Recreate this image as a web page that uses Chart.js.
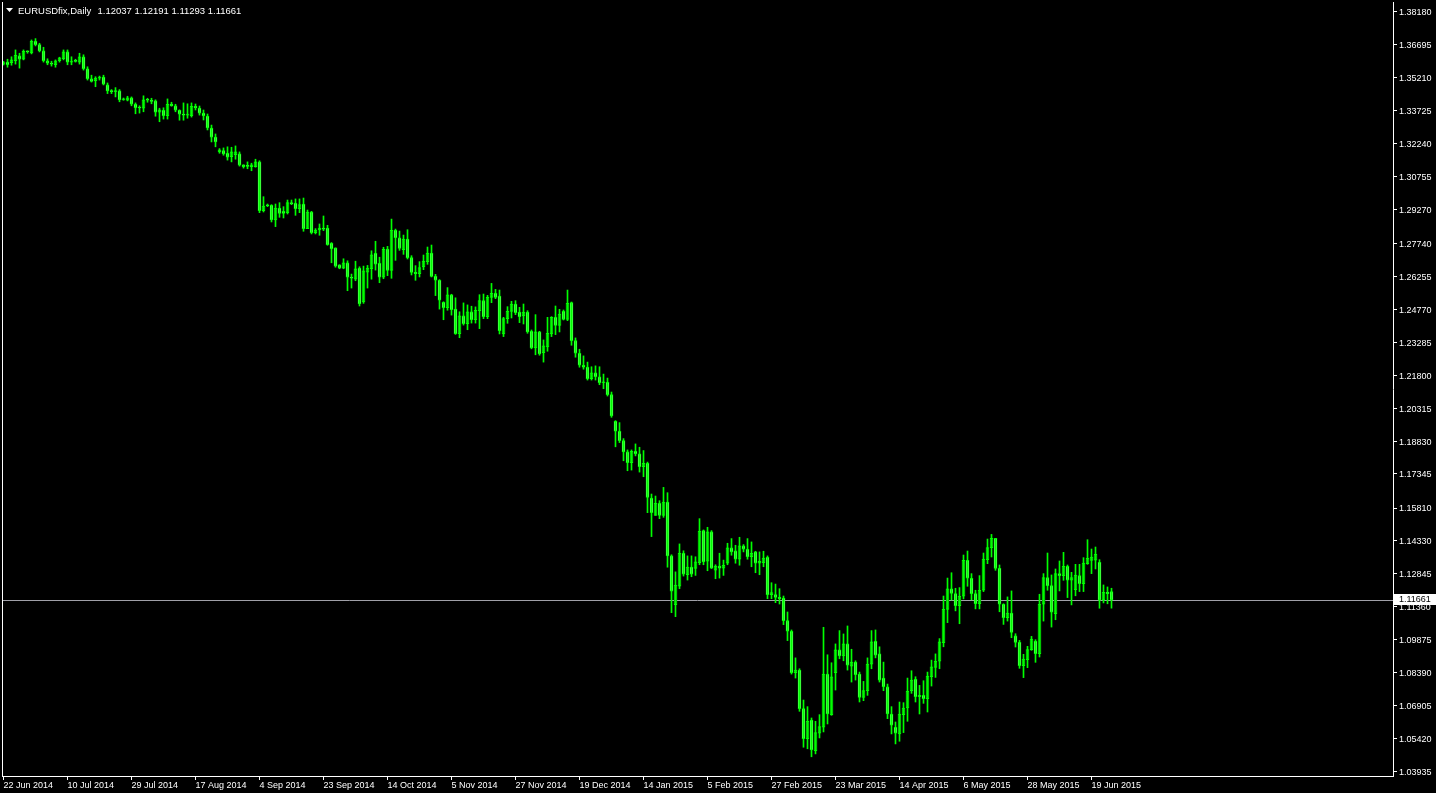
<!DOCTYPE html>
<html>
<head>
<meta charset="utf-8">
<title>EURUSDfix,Daily</title>
<script src="https://cdn.jsdelivr.net/npm/chart.js@4.4.1/dist/chart.umd.min.js"></script>
<style>
    html, body { margin: 0; padding: 0; background: #000; }
    #wrap { position: relative; width: 1436px; height: 793px; }
</style>
</head>
<body>
<div id="wrap"><canvas id="priceChart"></canvas></div>
<script>
// EURUSD daily candles, Jun 2014 - Jun 2015
const symbolTitle = 'EURUSDfix,Daily';

const opens = [
    1.3583,1.3592,1.3589,1.3598,1.3620,1.3605,1.3641,1.3634,1.3686,1.3671,1.3643,1.3598,1.3587,1.3580,1.3598,1.3607,
    1.3638,1.3592,1.3597,1.3592,1.3616,1.3562,1.3517,1.3508,1.3520,1.3525,1.3489,1.3462,1.3459,1.3462,1.3422,1.3420,
    1.3431,1.3402,1.3386,1.3384,1.3422,1.3420,1.3417,1.3366,1.3375,1.3350,1.3403,1.3395,1.3375,1.3357,1.3353,1.3350,
    1.3393,1.3385,1.3362,1.3349,1.3295,1.3254,1.3187,1.3193,1.3181,1.3165,1.3174,1.3178,1.3129,1.3123,1.3120,1.3120,
    1.3142,1.2922,1.2946,1.2946,1.2880,1.2934,1.2919,1.2913,1.2958,1.2955,1.2931,1.2952,1.2841,1.2916,1.2823,1.2835,
    1.2844,1.2844,1.2775,1.2754,1.2678,1.2663,1.2687,1.2622,1.2613,1.2663,1.2510,1.2645,1.2660,1.2730,1.2685,1.2622,
    1.2749,1.2653,1.2833,1.2800,1.2746,1.2794,1.2710,1.2644,1.2638,1.2668,1.2692,1.2731,1.2626,1.2608,1.2509,1.2484,
    1.2542,1.2478,1.2367,1.2448,1.2412,1.2466,1.2430,1.2471,1.2516,1.2444,1.2531,1.2549,1.2537,1.2366,1.2435,1.2468,
    1.2501,1.2465,1.2447,1.2465,1.2378,1.2303,1.2375,1.2281,1.2308,1.2366,1.2441,1.2405,1.2468,1.2432,1.2507,1.2336,
    1.2279,1.2225,1.2216,1.2164,1.2191,1.2173,1.2146,1.2148,1.2092,1.1972,1.1927,1.1885,1.1834,1.1785,1.1837,1.1825,
    1.1767,1.1783,1.1626,1.1548,1.1602,1.1548,1.1608,1.1365,1.1145,1.1229,1.1377,1.1280,1.1314,1.1308,1.1334,1.1479,
    1.1341,1.1473,1.1301,1.1319,1.1310,1.1332,1.1401,1.1388,1.1350,1.1410,1.1395,1.1361,1.1383,1.1332,1.1334,1.1359,
    1.1190,1.1190,1.1178,1.1175,1.1073,1.1025,1.0838,1.0850,1.0676,1.0541,1.0625,1.0487,1.0565,1.0592,1.0832,1.0649,
    1.0838,1.0941,1.0914,1.0968,1.0868,1.0886,1.0832,1.0727,1.0757,1.0877,1.0980,1.0923,1.0814,1.0775,1.0652,1.0592,
    1.0562,1.0649,1.0679,1.0757,1.0808,1.0730,1.0736,1.0721,1.0820,1.0862,1.0890,1.0974,1.1124,1.1217,1.1195,1.1140,
    1.1183,1.1345,1.1264,1.1195,1.1149,1.1210,1.1348,1.1402,1.1444,1.1309,1.1147,1.1086,1.1107,1.1005,1.0975,1.0870,
    1.0897,1.0942,1.0981,1.0924,1.1147,1.1267,1.1231,1.1104,1.1285,1.1276,1.1318,1.1255,1.1213,1.1276,1.1240,1.1330,
    1.1345,1.1346,1.1336,1.1165,1.1201,1.12037
];
const highs = [
    1.3595,1.3605,1.3616,1.3647,1.3632,1.3647,1.3643,1.3692,1.3698,1.3677,1.3659,1.3607,1.3596,1.3602,1.3614,1.3647,
    1.3647,1.3616,1.3605,1.3632,1.3625,1.3571,1.3533,1.3526,1.3529,1.3533,1.3498,1.3468,1.3477,1.3468,1.3430,1.3438,
    1.3435,1.3408,1.3395,1.3440,1.3429,1.3429,1.3422,1.3384,1.3386,1.3426,1.3411,1.3402,1.3377,1.3408,1.3404,1.3408,
    1.3403,1.3394,1.3376,1.3358,1.3308,1.3268,1.3202,1.3205,1.3210,1.3208,1.3214,1.3187,1.3129,1.3142,1.3136,1.3154,
    1.3147,1.2985,1.2952,1.2949,1.2952,1.2958,1.2940,1.2970,1.2970,1.2975,1.2975,1.2979,1.2925,1.2919,1.2841,1.2862,
    1.2898,1.2856,1.2778,1.2754,1.2678,1.2705,1.2696,1.2636,1.2694,1.2669,1.2672,1.2675,1.2741,1.2784,1.2712,1.2757,
    1.2761,1.2884,1.2839,1.2830,1.2812,1.2836,1.2719,1.2674,1.2692,1.2722,1.2758,1.2767,1.2635,1.2611,1.2511,1.2575,
    1.2545,1.2529,1.2466,1.2506,1.2497,1.2491,1.2488,1.2543,1.2546,1.2540,1.2594,1.2567,1.2564,1.2441,1.2489,1.2513,
    1.2516,1.2486,1.2501,1.2471,1.2384,1.2453,1.2378,1.2339,1.2441,1.2444,1.2492,1.2477,1.2474,1.2564,1.2510,1.2348,
    1.2297,1.2267,1.2239,1.2218,1.2222,1.2218,1.2185,1.2167,1.2104,1.1975,1.1966,1.1894,1.1843,1.1843,1.1870,1.1855,
    1.1840,1.1788,1.1644,1.1635,1.1614,1.1674,1.1650,1.1370,1.1293,1.1419,1.1388,1.1365,1.1365,1.1361,1.1533,1.1482,
    1.1494,1.1479,1.1325,1.1377,1.1346,1.1422,1.1443,1.1413,1.1449,1.1416,1.1443,1.1428,1.1386,1.1383,1.1386,1.1365,
    1.1244,1.1238,1.1217,1.1184,1.1112,1.1031,1.0905,1.0856,1.0715,1.0685,1.0634,1.0619,1.0649,1.1043,1.0919,1.0883,
    1.0968,1.1028,1.1013,1.1049,1.0944,1.0892,1.0841,1.0799,1.0905,1.1028,1.1031,1.0955,1.0886,1.0787,1.0685,1.0616,
    1.0706,1.0703,1.0814,1.0847,1.0820,1.0781,1.0802,1.0841,1.0895,1.0923,1.0992,1.1184,1.1265,1.1289,1.1219,1.1222,
    1.1369,1.1387,1.1285,1.1210,1.1276,1.1378,1.1441,1.1462,1.1444,1.1324,1.1149,1.1180,1.1207,1.1014,1.0984,1.0921,
    1.0957,1.1002,1.0987,1.1192,1.1285,1.1378,1.1279,1.1306,1.1342,1.1381,1.1324,1.1291,1.1327,1.1327,1.1357,1.1438,
    1.1396,1.1405,1.1348,1.1234,1.1225,1.12191
];
const lows = [
    1.3579,1.3569,1.3578,1.3583,1.3565,1.3602,1.3632,1.3629,1.3665,1.3638,1.3592,1.3580,1.3574,1.3569,1.3592,1.3602,
    1.3580,1.3580,1.3592,1.3583,1.3556,1.3511,1.3502,1.3481,1.3511,1.3489,1.3450,1.3450,1.3435,1.3413,1.3420,1.3417,
    1.3395,1.3359,1.3362,1.3368,1.3411,1.3404,1.3348,1.3323,1.3335,1.3335,1.3393,1.3368,1.3330,1.3330,1.3339,1.3344,
    1.3376,1.3353,1.3331,1.3286,1.3232,1.3210,1.3181,1.3172,1.3150,1.3142,1.3154,1.3123,1.3114,1.3111,1.3102,1.3118,
    1.2913,1.2916,1.2940,1.2871,1.2850,1.2892,1.2889,1.2907,1.2949,1.2901,1.2913,1.2829,1.2841,1.2817,1.2817,1.2811,
    1.2832,1.2766,1.2687,1.2667,1.2660,1.2660,1.2561,1.2573,1.2606,1.2492,1.2504,1.2573,1.2613,1.2654,1.2597,1.2615,
    1.2629,1.2617,1.2698,1.2743,1.2725,1.2704,1.2632,1.2608,1.2623,1.2656,1.2680,1.2623,1.2539,1.2478,1.2430,1.2473,
    1.2451,1.2364,1.2349,1.2406,1.2385,1.2415,1.2415,1.2390,1.2435,1.2435,1.2507,1.2525,1.2366,1.2354,1.2414,1.2438,
    1.2453,1.2417,1.2411,1.2369,1.2299,1.2272,1.2270,1.2239,1.2288,1.2354,1.2363,1.2375,1.2429,1.2426,1.2315,1.2261,
    1.2216,1.2207,1.2158,1.2158,1.2158,1.2137,1.2119,1.2086,1.1990,1.1857,1.1876,1.1794,1.1749,1.1752,1.1816,1.1743,
    1.1722,1.1560,1.1452,1.1548,1.1533,1.1539,1.1314,1.1109,1.1091,1.1217,1.1274,1.1256,1.1271,1.1277,1.1325,1.1325,
    1.1298,1.1308,1.1262,1.1265,1.1277,1.1325,1.1368,1.1332,1.1323,1.1383,1.1350,1.1316,1.1289,1.1280,1.1316,1.1172,
    1.1172,1.1154,1.1148,1.1055,1.0983,1.0832,1.0814,1.0664,1.0502,1.0495,1.0459,1.0472,1.0544,1.0571,1.0607,1.0646,
    1.0760,1.0901,1.0892,1.0850,1.0796,1.0805,1.0706,1.0712,1.0736,1.0856,1.0905,1.0796,1.0757,1.0631,1.0562,1.0517,
    1.0529,1.0568,1.0619,1.0745,1.0706,1.0652,1.0700,1.0661,1.0778,1.0817,1.0856,1.0955,1.1064,1.1166,1.1117,1.1059,
    1.1171,1.1228,1.1167,1.1126,1.1126,1.1204,1.1330,1.1360,1.1300,1.1113,1.1056,1.1071,1.0996,1.0954,1.0858,1.0816,
    1.0861,1.0939,1.0885,1.0909,1.1071,1.1210,1.1044,1.1077,1.1207,1.1255,1.1177,1.1144,1.1185,1.1204,1.1204,1.1327,
    1.1285,1.1306,1.1129,1.1153,1.1149,1.11293
];
const closes = [
    1.3590,1.3580,1.3602,1.3623,1.3605,1.3641,1.3638,1.3686,1.3671,1.3643,1.3598,1.3587,1.3583,1.3598,1.3611,1.3638,
    1.3592,1.3597,1.3595,1.3616,1.3562,1.3517,1.3505,1.3520,1.3525,1.3493,1.3462,1.3459,1.3462,1.3422,1.3426,1.3431,
    1.3402,1.3386,1.3385,1.3422,1.3420,1.3415,1.3366,1.3377,1.3350,1.3402,1.3395,1.3375,1.3357,1.3353,1.3356,1.3393,
    1.3385,1.3362,1.3349,1.3295,1.3254,1.3232,1.3196,1.3178,1.3163,1.3187,1.3187,1.3127,1.3120,1.3122,1.3129,1.3142,
    1.2922,1.2943,1.2944,1.2880,1.2934,1.2910,1.2910,1.2958,1.2952,1.2931,1.2949,1.2841,1.2916,1.2823,1.2835,1.2844,
    1.2839,1.2769,1.2751,1.2672,1.2663,1.2687,1.2622,1.2618,1.2660,1.2501,1.2651,1.2663,1.2723,1.2681,1.2622,1.2748,
    1.2653,1.2833,1.2800,1.2752,1.2794,1.2710,1.2644,1.2638,1.2665,1.2695,1.2731,1.2626,1.2608,1.2518,1.2484,1.2542,
    1.2475,1.2367,1.2448,1.2412,1.2466,1.2430,1.2473,1.2516,1.2444,1.2531,1.2549,1.2531,1.2381,1.2435,1.2468,1.2501,
    1.2462,1.2444,1.2465,1.2375,1.2303,1.2375,1.2276,1.2312,1.2369,1.2441,1.2405,1.2456,1.2432,1.2504,1.2336,1.2279,
    1.2225,1.2216,1.2164,1.2191,1.2173,1.2146,1.2148,1.2092,1.1996,1.1927,1.1885,1.1834,1.1785,1.1837,1.1825,1.1767,
    1.1783,1.1629,1.1560,1.1602,1.1548,1.1608,1.1365,1.1206,1.1233,1.1377,1.1283,1.1314,1.1283,1.1338,1.1476,1.1338,
    1.1473,1.1310,1.1319,1.1310,1.1323,1.1401,1.1383,1.1350,1.1410,1.1395,1.1361,1.1377,1.1332,1.1341,1.1355,1.1190,
    1.1199,1.1178,1.1172,1.1073,1.1025,1.0838,1.0850,1.0676,1.0541,1.0619,1.0490,1.0568,1.0595,1.0832,1.0652,1.0820,
    1.0941,1.0914,1.0968,1.0872,1.0886,1.0829,1.0727,1.0757,1.0877,1.0977,1.0917,1.0805,1.0775,1.0652,1.0601,1.0565,
    1.0652,1.0679,1.0754,1.0805,1.0730,1.0736,1.0721,1.0823,1.0865,1.0890,1.0977,1.1124,1.1217,1.1196,1.1140,1.1183,
    1.1345,1.1264,1.1195,1.1149,1.1210,1.1351,1.1402,1.1444,1.1309,1.1147,1.1086,1.1107,1.1020,1.0975,1.0870,1.0900,
    1.0942,1.0990,1.0924,1.1147,1.1267,1.1231,1.1111,1.1285,1.1276,1.1318,1.1255,1.1267,1.1279,1.1240,1.1333,1.1354,
    1.1360,1.1372,1.1165,1.1201,1.1195,1.11661
];

// one date label every 16 bars
const tickDates = [
    '22 Jun 2014', '10 Jul 2014', '29 Jul 2014', '17 Aug 2014', '4 Sep 2014', '23 Sep 2014',
    '14 Oct 2014', '5 Nov 2014', '27 Nov 2014', '19 Dec 2014', '14 Jan 2015', '5 Feb 2015',
    '27 Feb 2015', '23 Mar 2015', '14 Apr 2015', '6 May 2015', '28 May 2015', '19 Jun 2015'
];
const tickStep = 16;

const priceTicks = [
    1.38180, 1.36695, 1.35210, 1.33725, 1.32240, 1.30755, 1.29270, 1.27740, 1.26255, 1.24770, 1.23285, 1.21800,
    1.20315, 1.18830, 1.17345, 1.15810, 1.14330, 1.12845, 1.11360, 1.09875, 1.08390, 1.06905, 1.05420, 1.03935
];

const lastBar = { open: 1.12037, high: 1.12191, low: 1.11293, close: 1.11661 };

const LIME = '#00ff00';
const FONT = '9px "Liberation Sans", Arial, sans-serif';

const wickData = highs.map((h, i) => ({ x: i, y: [lows[i], h] }));
const bodyData = opens.map((o, i) => ({ x: i, y: [o, closes[i]] }));
const bodyFill = opens.map((o, i) => closes[i] >= o ? '#000000' : '#ffffff');

// MT4 style overlay: bid line, bid label, header text, left frame line
const mt4Overlay = {
    id: 'mt4Overlay',
    beforeDatasetsDraw(chart) {
        const { ctx, chartArea } = chart;
        const y = Math.round(chart.scales.y.getPixelForValue(lastBar.close)) + 0.5;
        ctx.save();
        ctx.strokeStyle = '#a0a0a8';
        ctx.lineWidth = 1;
        ctx.beginPath();
        ctx.moveTo(chartArea.left, y);
        ctx.lineTo(chartArea.right, y);
        ctx.stroke();
        ctx.restore();
    },
    afterDraw(chart) {
        const { ctx, chartArea } = chart;
        ctx.save();
        // frame left edge
        ctx.strokeStyle = '#ffffff';
        ctx.lineWidth = 1;
        ctx.beginPath();
        ctx.moveTo(chartArea.left + 0.5, chartArea.top);
        ctx.lineTo(chartArea.left + 0.5, chartArea.bottom);
        ctx.stroke();

        // bid price label on the axis
        const y = Math.round(chart.scales.y.getPixelForValue(lastBar.close));
        ctx.fillStyle = '#ffffff';
        ctx.fillRect(chartArea.right + 1, y - 6, 42, 11);
        ctx.fillStyle = '#000000';
        ctx.font = FONT;
        ctx.textBaseline = 'middle';
        ctx.textAlign = 'left';
        ctx.fillText(lastBar.close.toFixed(5), chartArea.right + 6, y);

        // header: symbol, timeframe and OHLC of the last bar
        ctx.fillStyle = '#ffffff';
        ctx.beginPath();
        ctx.moveTo(6, 8);
        ctx.lineTo(13, 8);
        ctx.lineTo(9.5, 12);
        ctx.closePath();
        ctx.fill();
        ctx.font = '9.5px "Liberation Sans", Arial, sans-serif';
        ctx.textBaseline = 'alphabetic';
        ctx.fillText(symbolTitle, 18, 14);
        const ohlc = [lastBar.open, lastBar.high, lastBar.low, lastBar.close].map(v => v.toFixed(5)).join(' ');
        ctx.fillText(ohlc, 97.5, 14);
        ctx.restore();
    }
};

document.addEventListener('DOMContentLoaded', function() {
    const ctx = document.getElementById('priceChart').getContext('2d');

    new Chart(ctx, {
        type: 'bar',
        data: {
            datasets: [
                {
                    label: 'wick',
                    data: wickData,
                    backgroundColor: LIME,
                    borderWidth: 0,
                    barThickness: 1,
                    grouped: false,
                    minBarLength: 1
                },
                {
                    label: 'body',
                    data: bodyData,
                    backgroundColor: bodyFill,
                    borderColor: LIME,
                    borderWidth: 1,
                    borderSkipped: false,
                    barThickness: 3,
                    grouped: false,
                    minBarLength: 1
                }
            ]
        },
        options: {
            responsive: true,
            maintainAspectRatio: false,
            animation: false,
            events: [],
            layout: {
                padding: { top: 2, left: 2, right: 0, bottom: 0 }
            },
            plugins: {
                legend: { display: false },
                tooltip: { enabled: false }
            },
            scales: {
                x: {
                    type: 'linear',
                    min: -0.375,
                    max: 347.375,
                    offset: false,
                    afterBuildTicks: function(scale) {
                        scale.ticks = tickDates.map((d, k) => ({ value: k * tickStep }));
                    },
                    afterFit: function(scale) {
                        scale.height = 17;
                        scale.paddingLeft = 0;
                        scale.paddingRight = 0;
                    },
                    ticks: {
                        autoSkip: false,
                        maxRotation: 0,
                        minRotation: 0,
                        align: 'start',
                        padding: 0,
                        color: '#ffffff',
                        font: { family: '"Liberation Sans", Arial, sans-serif', size: 9 },
                        callback: function(value, index) {
                            return tickDates[index];
                        }
                    },
                    grid: {
                        offset: false,
                        drawOnChartArea: false,
                        drawTicks: true,
                        tickLength: 4,
                        color: '#ffffff'
                    },
                    border: { display: true, color: '#ffffff', width: 1 }
                },
                y: {
                    type: 'linear',
                    position: 'right',
                    min: 1.03723,
                    max: 1.38631,
                    afterBuildTicks: function(scale) {
                        scale.ticks = priceTicks.map(v => ({ value: v }));
                    },
                    afterFit: function(scale) {
                        scale.width = 43;
                        scale.paddingTop = 0;
                        scale.paddingBottom = 0;
                    },
                    ticks: {
                        autoSkip: false,
                        padding: 2,
                        labelOffset: 1,
                        color: '#ffffff',
                        font: { family: '"Liberation Sans", Arial, sans-serif', size: 9 },
                        callback: function(value) {
                            return value.toFixed(5);
                        }
                    },
                    grid: {
                        drawOnChartArea: false,
                        drawTicks: true,
                        tickLength: 4,
                        color: '#ffffff'
                    },
                    border: { display: true, color: '#ffffff', width: 1 }
                }
            }
        },
        plugins: [mt4Overlay]
    });
});
</script>
</body>
</html>
